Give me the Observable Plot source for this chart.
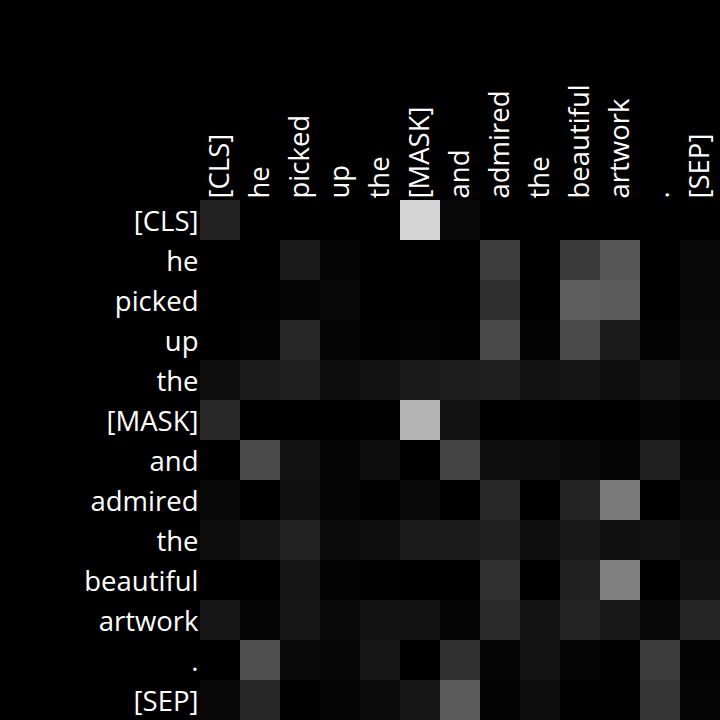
<!DOCTYPE html>
<html><head><meta charset="utf-8">
<script src="https://cdn.jsdelivr.net/npm/d3@7"></script>
<script src="https://cdn.jsdelivr.net/npm/@observablehq/plot@0.6"></script>
<style>html,body{margin:0;padding:0;background:#000;}</style>
</head><body><div id="chart"></div>
<script>
const tokens = ["[CLS]","he","picked","up","the","[MASK]","and","admired","the","beautiful","artwork",".","[SEP]"];
const attention = [
  [.133,0,0,0,0,.831,.031,0,0,0,0,0,0],
  [0,0,.102,.016,0,0,0,.243,0,.227,.337,0,.031],
  [0,.008,.016,.027,0,0,0,.180,0,.369,.353,0,.027],
  [0,.012,.149,.016,.008,.012,.004,.282,.012,.290,.110,.012,.043],
  [.055,.106,.122,.051,.067,.102,.114,.122,.067,.078,.059,.078,.059],
  [.157,0,0,0,.008,.706,.067,0,.008,0,0,.020,.008],
  [0,.290,.071,.016,.051,0,.267,.059,.047,.035,.020,.125,.020],
  [.031,0,.063,.016,.004,.035,0,.157,0,.141,.478,0,.039],
  [.047,.078,.129,.043,.055,.110,.110,.125,.055,.094,.063,.071,.051],
  [0,0,.078,.012,.004,0,0,.188,0,.125,.502,0,.067],
  [.086,.020,.090,.035,.067,.067,.020,.165,.075,.141,.094,.027,.145],
  [0,.314,.039,.024,.090,0,.188,.020,.075,.016,.008,.235,.012],
  [.027,.149,.004,.016,.043,.090,.353,.012,.047,.008,.004,.208,.016]
];
const data = [];
attention.forEach((row, i) => row.forEach((v, j) => data.push({row: i, col: j, value: v})));
const idx = tokens.map((_, i) => i);
const fmt = i => tokens[i];
const chart = Plot.plot({
  width: 720, height: 720,
  marginTop: 200, marginLeft: 200, marginRight: 0, marginBottom: 0,
  style: {background: "#000", color: "#fff", fontFamily: "'Open Sans', 'Noto Sans', sans-serif"},
  x: {type: "band", domain: idx, padding: 0, axis: null},
  y: {type: "band", domain: idx, padding: 0, axis: null},
  color: {type: "linear", domain: [0, 1], range: ["#000", "#fff"]},
  marks: [
    Plot.cell(data, {x: "col", y: "row", fill: "value", inset: 0, shapeRendering: "crispEdges"}),
    Plot.axisX({anchor: "top", tickFormat: fmt, tickRotate: -90, tickSize: 0, tickPadding: 2, fontSize: 27.5, fill: "#fff", label: null}),
    Plot.axisY({anchor: "left", tickFormat: fmt, tickSize: 0, tickPadding: 2, dy: 1.5, fontSize: 27.5, fill: "#fff", label: null})
  ]
});
document.getElementById("chart").appendChild(chart);
</script>
</body></html>
